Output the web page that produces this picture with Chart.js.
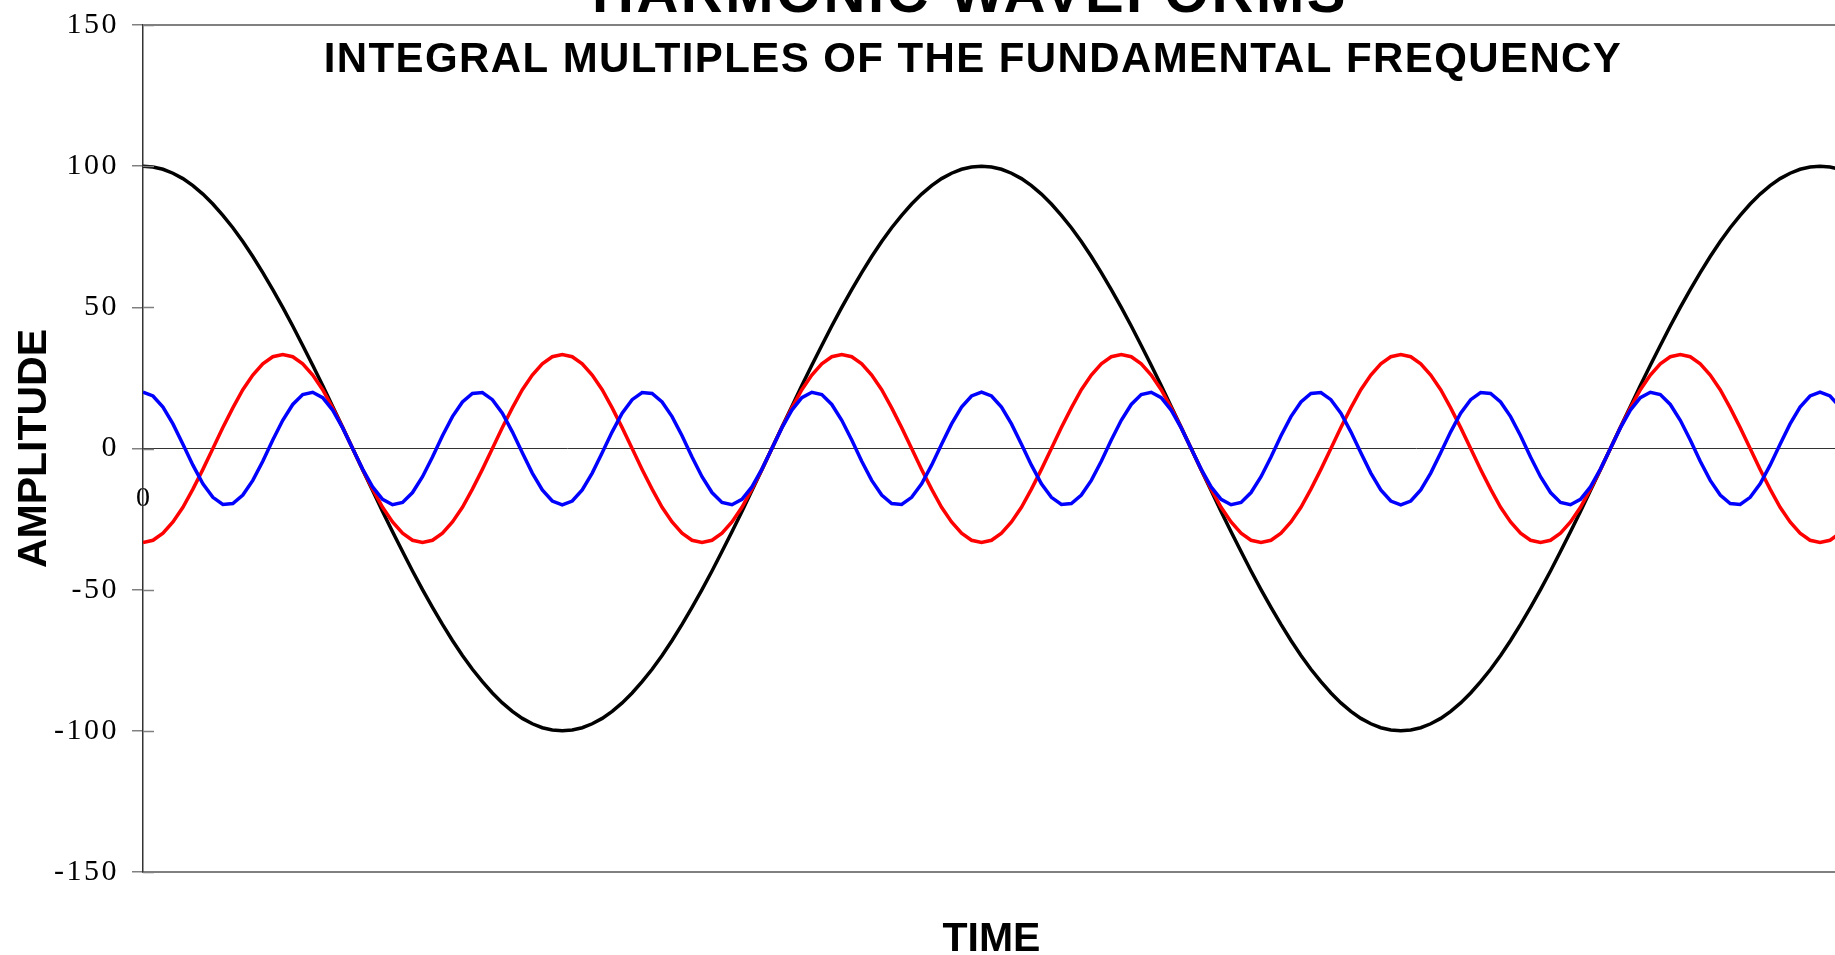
<!DOCTYPE html>
<html lang="en">
<head>
    <meta charset="UTF-8">
    <title>Harmonic Waveforms</title>
    <script src="https://cdn.jsdelivr.net/npm/chart.js"></script>
    <style>
        html, body {
            margin: 0;
            padding: 0;
            background: #fff;
            overflow: hidden;
        }
        .chart-wrap {
            position: absolute;
            left: 0;
            top: 0;
            width: 1940px;
            height: 975px;
        }
    </style>
</head>
<body>
    <div class="chart-wrap">
        <canvas id="waveChart"></canvas>
    </div>

    <script>
        const chartTitle = 'HARMONIC WAVEFORMS';
        const chartSubtitle = 'INTEGRAL MULTIPLES OF THE FUNDAMENTAL FREQUENCY';
        const yTickValues = [-150, -100, -50, 0, 50, 100, 150];

        // fundamental (amplitude 100), one sample per time step
        const fundamental = [
            100, 99.7, 98.9, 97.5, 95.6, 93.1, 90.1, 86.6, 82.6, 78.2, 73.3, 68.0, 62.3, 56.3, 50.0, 43.4, 36.5, 29.5, 22.3, 14.9, 7.5, 0,
            -7.5, -14.9, -22.3, -29.5, -36.5, -43.4, -50.0, -56.3, -62.3, -68.0, -73.3, -78.2, -82.6, -86.6, -90.1, -93.1, -95.6, -97.5, -98.9, -99.7, -100,
            -99.7, -98.9, -97.5, -95.6, -93.1, -90.1, -86.6, -82.6, -78.2, -73.3, -68.0, -62.3, -56.3, -50.0, -43.4, -36.5, -29.5, -22.3, -14.9, -7.5, 0,
            7.5, 14.9, 22.3, 29.5, 36.5, 43.4, 50.0, 56.3, 62.3, 68.0, 73.3, 78.2, 82.6, 86.6, 90.1, 93.1, 95.6, 97.5, 98.9, 99.7,
            100, 99.7, 98.9, 97.5, 95.6, 93.1, 90.1, 86.6, 82.6, 78.2, 73.3, 68.0, 62.3, 56.3, 50.0, 43.4, 36.5, 29.5, 22.3, 14.9, 7.5, 0,
            -7.5, -14.9, -22.3, -29.5, -36.5, -43.4, -50.0, -56.3, -62.3, -68.0, -73.3, -78.2, -82.6, -86.6, -90.1, -93.1, -95.6, -97.5, -98.9, -99.7, -100,
            -99.7, -98.9, -97.5, -95.6, -93.1, -90.1, -86.6, -82.6, -78.2, -73.3, -68.0, -62.3, -56.3, -50.0, -43.4, -36.5, -29.5, -22.3, -14.9, -7.5, 0,
            7.5, 14.9, 22.3, 29.5, 36.5, 43.4, 50.0, 56.3, 62.3, 68.0, 73.3, 78.2, 82.6, 86.6, 90.1, 93.1, 95.6, 97.5, 98.9, 99.7,
            100, 99.7, 98.9
        ];

        // third harmonic (amplitude 1/3)
        const thirdHarmonic = [
            -33.3, -32.5, -30.0, -26.0, -20.8, -14.4, -7.4, 0, 7.4, 14.4, 20.8, 26.0, 30.0, 32.5, 33.3, 32.5, 30.0, 26.0, 20.8, 14.4, 7.4, 0, -7.4, -14.4, -20.8, -26.0, -30.0, -32.5,
            -33.3, -32.5, -30.0, -26.0, -20.8, -14.4, -7.4, 0, 7.4, 14.4, 20.8, 26.0, 30.0, 32.5, 33.3, 32.5, 30.0, 26.0, 20.8, 14.4, 7.4, 0, -7.4, -14.4, -20.8, -26.0, -30.0, -32.5,
            -33.3, -32.5, -30.0, -26.0, -20.8, -14.4, -7.4, 0, 7.4, 14.4, 20.8, 26.0, 30.0, 32.5, 33.3, 32.5, 30.0, 26.0, 20.8, 14.4, 7.4, 0, -7.4, -14.4, -20.8, -26.0, -30.0, -32.5,
            -33.3, -32.5, -30.0, -26.0, -20.8, -14.4, -7.4, 0, 7.4, 14.4, 20.8, 26.0, 30.0, 32.5, 33.3, 32.5, 30.0, 26.0, 20.8, 14.4, 7.4, 0, -7.4, -14.4, -20.8, -26.0, -30.0, -32.5,
            -33.3, -32.5, -30.0, -26.0, -20.8, -14.4, -7.4, 0, 7.4, 14.4, 20.8, 26.0, 30.0, 32.5, 33.3, 32.5, 30.0, 26.0, 20.8, 14.4, 7.4, 0, -7.4, -14.4, -20.8, -26.0, -30.0, -32.5,
            -33.3, -32.5, -30.0, -26.0, -20.8, -14.4, -7.4, 0, 7.4, 14.4, 20.8, 26.0, 30.0, 32.5, 33.3, 32.5, 30.0, 26.0, 20.8, 14.4, 7.4, 0, -7.4, -14.4, -20.8, -26.0, -30.0, -32.5,
            -33.3, -32.5, -30.0
        ];

        // fifth harmonic (amplitude 1/5)
        const fifthHarmonic = [
            20.0, 18.6, 14.7, 8.7, 1.5, -5.9, -12.5, -17.3, -19.8, -19.5, -16.5, -11.3, -4.5, 3.0, 10.0, 15.6, 19.1, 19.9, 18.0, 13.6, 7.3, 0,
            -7.3, -13.6, -18.0, -19.9, -19.1, -15.6, -10.0, -3.0, 4.5, 11.3, 16.5, 19.5, 19.8, 17.3, 12.5, 5.9, -1.5, -8.7, -14.7, -18.6, -20.0,
            -18.6, -14.7, -8.7, -1.5, 5.9, 12.5, 17.3, 19.8, 19.5, 16.5, 11.3, 4.5, -3.0, -10.0, -15.6, -19.1, -19.9, -18.0, -13.6, -7.3, 0,
            7.3, 13.6, 18.0, 19.9, 19.1, 15.6, 10.0, 3.0, -4.5, -11.3, -16.5, -19.5, -19.8, -17.3, -12.5, -5.9, 1.5, 8.7, 14.7, 18.6,
            20.0, 18.6, 14.7, 8.7, 1.5, -5.9, -12.5, -17.3, -19.8, -19.5, -16.5, -11.3, -4.5, 3.0, 10.0, 15.6, 19.1, 19.9, 18.0, 13.6, 7.3, 0,
            -7.3, -13.6, -18.0, -19.9, -19.1, -15.6, -10.0, -3.0, 4.5, 11.3, 16.5, 19.5, 19.8, 17.3, 12.5, 5.9, -1.5, -8.7, -14.7, -18.6, -20.0,
            -18.6, -14.7, -8.7, -1.5, 5.9, 12.5, 17.3, 19.8, 19.5, 16.5, 11.3, 4.5, -3.0, -10.0, -15.6, -19.1, -19.9, -18.0, -13.6, -7.3, 0,
            7.3, 13.6, 18.0, 19.9, 19.1, 15.6, 10.0, 3.0, -4.5, -11.3, -16.5, -19.5, -19.8, -17.3, -12.5, -5.9, 1.5, 8.7, 14.7, 18.6,
            20.0, 18.6, 14.7
        ];

        const timeMax = 170;

        const toPoints = arr => arr.map((v, i) => ({ x: i, y: v }));

        // the y tick labels in the original are set with wide letter spacing
        const spacedTickLabels = {
            id: 'spacedTickLabels',
            beforeDraw(chart) {
                const scale = chart.scales.y;
                if (scale._spaced) return;
                const original = scale.drawLabels.bind(scale);
                scale.drawLabels = function (area) {
                    this.ctx.save();
                    this.ctx.letterSpacing = '2.5px';
                    original(area);
                    this.ctx.restore();
                };
                scale._spaced = true;
            }
        };

        // headings sit over the plot, plus the inner half of the y ticks and the top frame line
        const frameAndHeadings = {
            id: 'frameAndHeadings',
            afterDraw(chart) {
                const ctx = chart.ctx;
                const area = chart.chartArea;
                const yScale = chart.scales.y;

                ctx.save();
                ctx.strokeStyle = '#808080';
                ctx.lineWidth = 2;
                ctx.beginPath();
                ctx.moveTo(area.left, area.top);
                ctx.lineTo(area.right, area.top);
                ctx.stroke();

                ctx.lineWidth = 1.5;
                ctx.beginPath();
                yScale.ticks.forEach(t => {
                    const py = Math.round(yScale.getPixelForValue(t.value)) + 0.5;
                    ctx.moveTo(area.left, py);
                    ctx.lineTo(area.left + 11, py);
                });
                ctx.stroke();

                ctx.fillStyle = '#000';
                ctx.textAlign = 'center';
                ctx.textBaseline = 'alphabetic';
                ctx.font = 'bold 58px "Liberation Sans", Arial, sans-serif';
                ctx.letterSpacing = '2.5px';
                ctx.fillText(chartTitle, chart.width / 2, 12);
                ctx.font = 'bold 42px "Liberation Sans", Arial, sans-serif';
                ctx.letterSpacing = '1.4px';
                ctx.fillText(chartSubtitle, chart.width / 2 + 3, 72);
                ctx.restore();
            }
        };

        const ctx = document.getElementById('waveChart').getContext('2d');
        new Chart(ctx, {
            type: 'line',
            data: {
                datasets: [
                    {
                        label: 'Fundamental',
                        data: toPoints(fundamental),
                        borderColor: '#000000',
                        borderWidth: 3.5,
                        pointRadius: 0,
                        order: 3
                    },
                    {
                        label: '3rd Harmonic',
                        data: toPoints(thirdHarmonic),
                        borderColor: '#ff0000',
                        borderWidth: 3.5,
                        pointRadius: 0,
                        order: 2
                    },
                    {
                        label: '5th Harmonic',
                        data: toPoints(fifthHarmonic),
                        borderColor: '#0000ff',
                        borderWidth: 3.5,
                        pointRadius: 0,
                        order: 1
                    }
                ]
            },
            options: {
                responsive: true,
                maintainAspectRatio: false,
                animation: false,
                layout: {
                    padding: { top: 25, right: 100, bottom: 0, left: 0 }
                },
                plugins: {
                    legend: { display: false },
                    title: { display: false },
                    tooltip: { enabled: false }
                },
                scales: {
                    x: {
                        type: 'linear',
                        position: 'bottom',
                        min: 0,
                        max: timeMax,
                        ticks: { display: false },
                        grid: { display: false, drawTicks: false },
                        border: { display: true, color: '#808080', width: 2 },
                        title: {
                            display: true,
                            text: 'TIME',
                            color: '#000',
                            font: { family: '"Liberation Sans", Arial, sans-serif', size: 41, weight: 'bold' },
                            padding: { top: 0, bottom: 11 }
                        },
                        afterFit(scale) {
                            scale.height = 103;
                            scale.paddingLeft = 0;
                            scale.paddingRight = 0;
                        }
                    },
                    x0: {
                        axis: 'x',
                        type: 'linear',
                        position: { y: 0 },
                        min: 0,
                        max: timeMax,
                        afterBuildTicks(scale) { scale.ticks = [{ value: 0 }]; },
                        ticks: {
                            color: '#000',
                            padding: 33,
                            maxRotation: 0,
                            font: { family: '"Liberation Serif", "Times New Roman", serif', size: 28 }
                        },
                        grid: { display: false, drawTicks: false },
                        border: { display: true, color: '#333333', width: 1 },
                        afterFit(scale) {
                            scale.paddingLeft = 0;
                            scale.paddingRight = 0;
                        }
                    },
                    y: {
                        min: -150,
                        max: 150,
                        afterBuildTicks(scale) { scale.ticks = yTickValues.map(v => ({ value: v })); },
                        ticks: {
                            color: '#000',
                            padding: 13,
                            font: { family: '"Liberation Serif", "Times New Roman", serif', size: 30 }
                        },
                        grid: {
                            drawOnChartArea: false,
                            drawTicks: true,
                            tickLength: 11,
                            color: '#808080',
                            lineWidth: 1.5
                        },
                        border: { display: true, color: '#333333', width: 1.5 },
                        title: {
                            display: true,
                            text: 'AMPLITUDE',
                            color: '#000',
                            font: { family: '"Liberation Sans", Arial, sans-serif', size: 41, weight: 'bold' },
                            padding: { top: 10, bottom: 0 }
                        },
                        afterFit(scale) {
                            scale.width = 143;
                            scale.paddingTop = 0;
                            scale.paddingBottom = 0;
                        }
                    }
                }
            },
            plugins: [spacedTickLabels, frameAndHeadings]
        });
    </script>
</body>
</html>
